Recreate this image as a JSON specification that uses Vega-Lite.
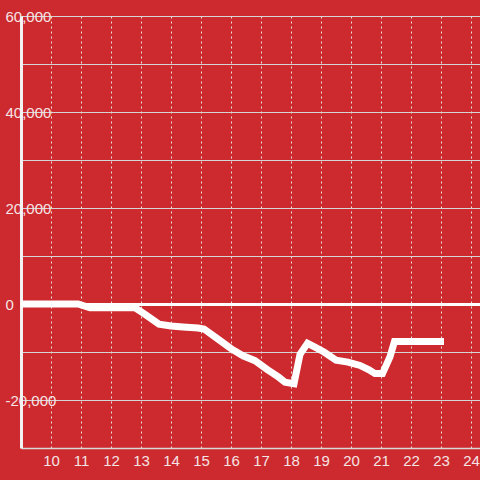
{
  "$schema": "https://vega.github.io/schema/vega-lite/v6.json",
  "autosize": {"type": "none"},
  "width": 459,
  "height": 432,
  "padding": {"left": 21, "top": 16, "right": 0, "bottom": 32},
  "background": "#cc2a2f",
  "config": {
    "view": {"stroke": null},
    "font": "Liberation Sans",
    "axis": {"labelFont": "Liberation Sans", "labelFontSize": 15, "labelColor": "#f5e4e4", "ticks": false, "title": null}
  },
  "data": {"values": [
    {"h": 9.0, "v": 0},
    {"h": 10.9, "v": 0},
    {"h": 11.3, "v": -800},
    {"h": 12.8, "v": -800},
    {"h": 13.1, "v": -2000},
    {"h": 13.6, "v": -4200},
    {"h": 14.0, "v": -4600},
    {"h": 14.4, "v": -4800},
    {"h": 14.9, "v": -5000},
    {"h": 15.1, "v": -5200},
    {"h": 15.5, "v": -7000},
    {"h": 16.0, "v": -9300},
    {"h": 16.4, "v": -10800},
    {"h": 16.8, "v": -11800},
    {"h": 17.2, "v": -13600},
    {"h": 17.6, "v": -15300},
    {"h": 17.8, "v": -16300},
    {"h": 18.1, "v": -16600},
    {"h": 18.3, "v": -10500},
    {"h": 18.55, "v": -8200},
    {"h": 18.8, "v": -9000},
    {"h": 19.1, "v": -10000},
    {"h": 19.5, "v": -11700},
    {"h": 19.9, "v": -12100},
    {"h": 20.3, "v": -12800},
    {"h": 20.6, "v": -13700},
    {"h": 20.8, "v": -14500},
    {"h": 21.05, "v": -14500},
    {"h": 21.3, "v": -11000},
    {"h": 21.45, "v": -7800},
    {"h": 23.1, "v": -7800}
  ]},
  "mark": {"type": "line", "color": "#ffffff", "strokeWidth": 7, "strokeCap": "butt", "clip": true},
  "encoding": {
    "x": {
      "field": "h", "type": "quantitative",
      "scale": {"domain": [9, 24.3], "nice": false, "zero": false},
      "axis": {
        "values": [10, 11, 12, 13, 14, 15, 16, 17, 18, 19, 20, 21, 22, 23, 24],
        "grid": true, "gridColor": "#e8e0e0", "gridDash": [2, 3], "gridWidth": 1,
        "domainColor": "#d8d8d8", "domainWidth": 1.5,
        "labelPadding": 5, "labelFlush": false, "labelOverlap": false
      }
    },
    "y": {
      "field": "v", "type": "quantitative",
      "scale": {"domain": [-30000, 60000], "nice": false},
      "axis": {
        "values": [-20000, -10000, 0, 10000, 20000, 30000, 40000, 50000, 60000],
        "grid": true,
        "gridColor": {"condition": {"test": "datum.value === 0", "value": "#ffffff"}, "value": "#d4d4d4"},
        "gridWidth": {"condition": {"test": "datum.value === 0", "value": 3}, "value": 1},
        "domainColor": "#f2f2f2", "domainWidth": 3,
        "labelAlign": "left", "labelPadding": 16, "labelOverlap": false, "labelBaseline": "middle",
        "labelExpr": "datum.value % 20000 === 0 ? replace(format(datum.value, ','), '\u2212', '-') : ''"
      }
    }
  }
}
